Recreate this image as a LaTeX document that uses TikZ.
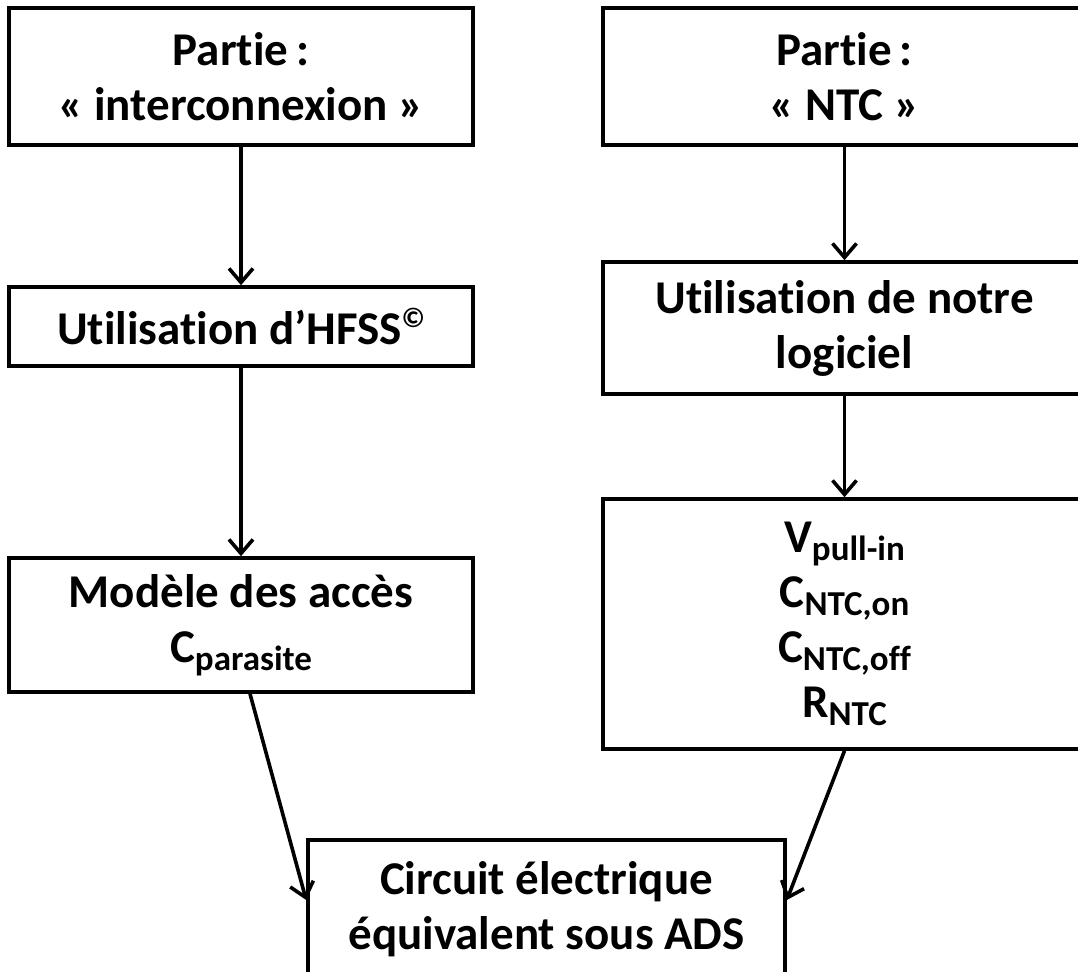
\documentclass[tikz,border=0pt]{standalone}
\usepackage{fontspec}
\setmainfont{Carlito}[RawFeature=-liga]
\usetikzlibrary{arrows.meta}
\newcommand{\idx}[1]{\raisebox{-0.35ex}{\fontsize{17.5}{17.5}\selectfont #1}}
\newcommand{\supsign}[1]{\raisebox{0.75ex}{\fontsize{14}{14}\selectfont #1}}

\begin{document}
\begin{tikzpicture}[
    x=0.5pt, y=-0.5pt,
    box/.style={draw=black, line width=1.8pt, fill=white, align=center,
                font=\bfseries\fontsize{23.5}{27.5}\selectfont, inner sep=0pt},
    leftbox/.style={box, minimum width=232pt},
    rightbox/.style={box, minimum width=241.5pt},
    flow/.style={line width=1.8pt, -{Straight Barb[length=7pt,width=12pt]}}
]
    \useasboundingbox (0,0) rectangle (1078,971);

    % left column
    \node[leftbox, minimum height=68.5pt] (interc) at (241,76.5) {Partie\,:\\« interconnexion »};
    \node[leftbox, minimum height=39.5pt] (hfss) at (241,326.5) {Utilisation d’HFSS\supsign{©}};
    \node[leftbox, minimum height=67pt] (acces) at (241,625) {Modèle des accès\\C\idx{parasite}};

    % right column
    \node[rightbox, minimum height=68.5pt] (ntc) at (844.5,76.5) {Partie\,:\\« NTC »};
    \node[rightbox, minimum height=66pt] (logiciel) at (844.5,328) {Utilisation de notre\\logiciel};
    \node[rightbox, minimum height=125pt] (params) at (844.5,624)
        {V\idx{pull-in}\\C\idx{NTC,on}\\C\idx{NTC,off}\\R\idx{NTC}};

    % bottom
    \node[box, minimum width=238.5pt, minimum height=69pt] (circuit) at (546.5,909)
        {Circuit électrique\\équivalent sous ADS};

    \draw[flow] (interc) -- (hfss);
    \draw[flow] (hfss) -- (acces);
    \draw[flow] (ntc) -- (logiciel);
    \draw[flow] (logiciel) -- (params);
    \draw[flow] ([xshift=4.5pt]acces.south) -- ([yshift=4.5pt]circuit.west);
    \draw[flow] (params.south) -- ([yshift=4.5pt]circuit.east);
\end{tikzpicture}
\end{document}
